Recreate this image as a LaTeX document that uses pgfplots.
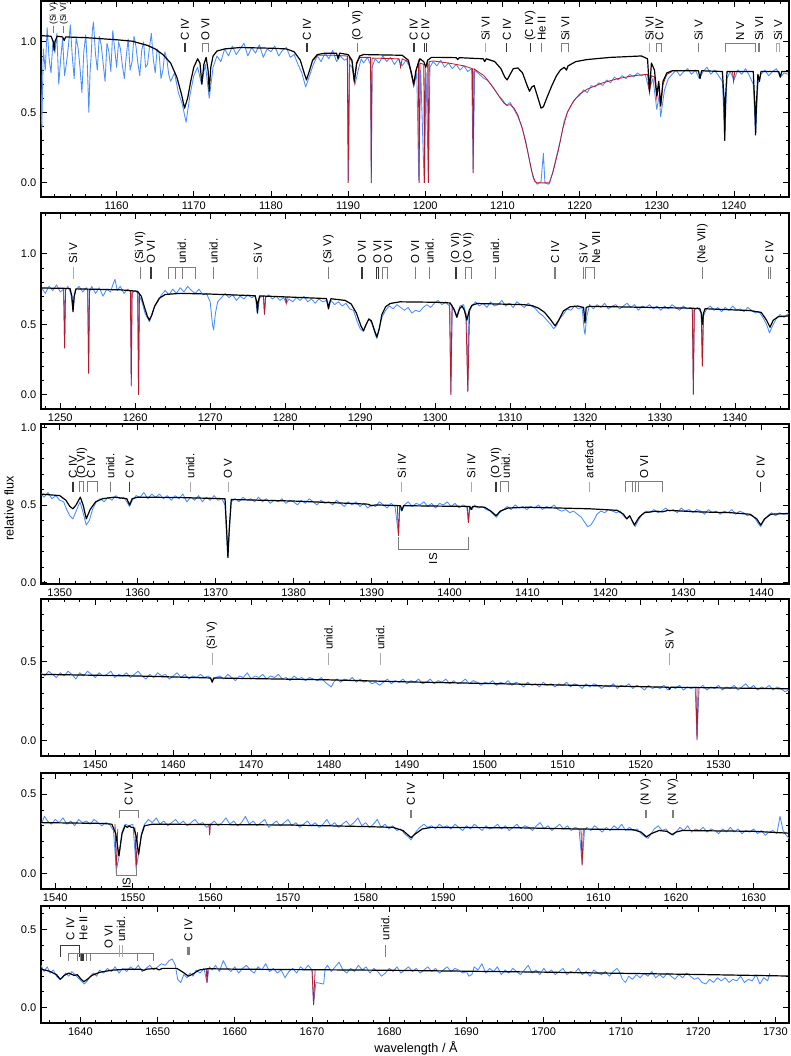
\documentclass[border=0pt]{standalone}
\usepackage{fontspec}
\setmainfont{Liberation Sans}
\usepackage{pgfplots}
\pgfplotsset{compat=1.18}
\definecolor{obs}{RGB}{74,142,255}
\definecolor{mred}{RGB}{185,25,45}
\definecolor{idg}{RGB}{125,125,125}
\definecolor{idl}{RGB}{170,170,170}
\definecolor{idd}{RGB}{55,55,55}
\newcommand\ticfont{\fontsize{8.3}{9}\selectfont}
\newcommand\idfont{\fontsize{8.6}{9}\selectfont}
\newcommand\tk[2][idg]{\draw[#1,line width=0.6pt] (axis cs:#2,\LTa) -- (axis cs:#2,\LTb);}
\newcommand\brk[3][idg]{\draw[#1,line width=0.6pt] (axis cs:#2,\LTb) -- (axis cs:#2,\LTa) -- (axis cs:#3,\LTa) -- (axis cs:#3,\LTb);}
\newcommand\lbl[2]{\node[rotate=90,anchor=west,inner sep=0pt,font=\idfont] at (axis cs:#1,\LTt) {#2};}
\pgfplotsset{
 sp/.style={scale only axis, width=561pt, anchor=south west, clip mode=individual,
  xtick distance=10, minor x tick num=4, minor y tick num=4, ytick={0,0.5,1},
  major tick length=4.3pt, minor tick length=2.4pt,
  axis line style={line width=0.9pt}, tick style={black,line width=0.6pt},
  tick label style={font=\ticfont},
  /pgf/number format/assume math mode=true,
  yticklabel style={/pgf/number format/.cd,fixed,fixed zerofill,precision=1,assume math mode=true},
  xticklabel style={/pgf/number format/.cd,1000 sep={},assume math mode=true}},
 obsline/.style={obs,line width=0.65pt,mark=none,line join=round},
 redline/.style={mred,line width=0.6pt,mark=none,unbounded coords=jump},
 modline/.style={black,line width=0.9pt,mark=none,line join=round}}
\begin{document}
\begin{tikzpicture}
\path[use as bounding box] (0,0) rectangle (592.5pt,792pt);
% ---------------- panel 1
\def\LTa{0.99}\def\LTb{0.93}\def\LTt{1.005}
\begin{axis}[sp, at={(30.75pt,644.25pt)}, height=147pt, xmin=1150.2, xmax=1247.13, ymin=-0.1, ymax=1.29]
\addplot[obsline] coordinates {(1150.0,0.62)(1150.15,0.85)(1150.3,0.38)(1150.5,0.95)(1150.75,0.80)(1151.0,1.10)(1151.25,0.88)(1151.5,0.78)(1151.75,1.01)(1152.0,0.92)(1152.25,1.06)(1152.5,0.70)(1152.75,0.88)(1153.0,1.02)(1153.25,0.76)(1153.5,0.85)(1153.75,0.97)(1154.0,1.12)(1154.25,0.90)(1154.5,0.74)(1154.75,1.03)(1155.0,0.96)(1155.25,0.82)(1155.5,0.64)(1155.75,0.93)(1156.0,1.05)(1156.2,0.84)(1156.4,0.50)(1156.55,0.78)(1156.7,0.90)(1156.85,1.08)(1157.0,1.14)(1157.25,0.92)(1157.5,0.80)(1157.75,1.04)(1158.0,0.98)(1158.25,0.85)(1158.5,0.72)(1158.75,0.99)(1159.0,0.93)(1159.25,0.79)(1159.5,1.08)(1159.75,0.95)(1160.0,0.82)(1160.25,1.00)(1160.5,0.95)(1160.75,0.83)(1161.0,0.74)(1161.25,0.90)(1161.5,1.02)(1161.75,0.80)(1162.0,0.86)(1162.25,1.04)(1162.5,0.97)(1162.75,0.85)(1163.0,0.76)(1163.25,0.94)(1163.5,1.00)(1163.75,0.82)(1164.0,0.84)(1164.25,0.96)(1164.5,1.06)(1164.75,0.88)(1165.0,0.78)(1165.25,0.95)(1165.5,0.92)(1165.75,0.74)(1166.0,0.80)(1166.25,0.93)(1166.5,0.88)(1166.75,0.77)(1167.0,0.72)(1167.5,0.78)(1168.0,0.64)(1168.5,0.56)(1169.0,0.43)(1169.5,0.62)(1170.0,0.76)(1170.5,0.82)(1171.0,0.70)(1171.5,0.84)(1172.0,0.60)(1172.5,0.82)(1173.0,0.90)(1173.5,0.86)(1174.0,0.95)(1174.5,0.90)(1175.0,0.97)(1175.5,0.91)(1176.0,0.95)(1176.5,0.99)(1177.0,0.90)(1177.5,0.96)(1178.0,0.92)(1178.5,0.98)(1179.0,0.89)(1179.5,0.95)(1180.0,0.93)(1180.5,0.97)(1181.0,0.90)(1181.5,0.94)(1182.0,0.96)(1182.5,0.89)(1183.0,0.91)(1183.5,0.84)(1184.0,0.78)(1184.5,0.68)(1185.0,0.76)(1185.5,0.84)(1186.0,0.90)(1186.5,0.86)(1187.0,0.92)(1187.5,0.88)(1188.0,0.94)(1188.5,0.86)(1189.0,0.90)(1189.5,0.87)(1189.9,0.88)(1190.05,0.02)(1190.2,0.84)(1190.5,0.82)(1190.9,0.70)(1191.3,0.80)(1191.7,0.88)(1192.0,0.85)(1192.5,0.89)(1192.9,0.84)(1193.0,0.0)(1193.1,0.82)(1193.5,0.88)(1194.0,0.85)(1194.5,0.90)(1195.0,0.86)(1195.5,0.89)(1196.0,0.84)(1196.5,0.88)(1197.0,0.83)(1197.5,0.87)(1198.0,0.82)(1198.5,0.68)(1198.9,0.78)(1199.15,0.02)(1199.4,0.80)(1199.85,0.0)(1200.1,0.78)(1200.4,0.01)(1200.6,0.82)(1201.0,0.86)(1201.5,0.83)(1202.0,0.87)(1202.5,0.82)(1203.0,0.85)(1203.5,0.81)(1204.0,0.84)(1204.5,0.80)(1205.0,0.83)(1205.5,0.79)(1206.0,0.81)(1206.2,0.10)(1206.4,0.80)(1206.8,0.78)(1207.2,0.76)(1207.6,0.74)(1208.0,0.73)(1208.5,0.70)(1209.0,0.66)(1209.5,0.62)(1210.0,0.59)(1210.5,0.55)(1211.0,0.57)(1211.5,0.52)(1212.0,0.47)(1212.5,0.40)(1213.0,0.30)(1213.5,0.16)(1214.0,0.03)(1214.5,-0.01)(1215.0,0.01)(1215.3,0.21)(1215.5,0.0)(1216.0,-0.01)(1216.5,0.07)(1217.0,0.19)(1217.5,0.30)(1218.0,0.44)(1218.5,0.51)(1219.0,0.56)(1219.5,0.60)(1220.0,0.62)(1220.5,0.66)(1221.0,0.64)(1221.5,0.69)(1222.0,0.68)(1222.5,0.71)(1223.0,0.69)(1223.5,0.73)(1224.0,0.71)(1224.5,0.75)(1225.0,0.73)(1225.5,0.76)(1226.0,0.74)(1226.5,0.77)(1227.0,0.75)(1227.5,0.78)(1228.0,0.76)(1228.5,0.77)(1229.0,0.66)(1229.5,0.74)(1230.0,0.52)(1230.3,0.62)(1230.5,0.47)(1231.0,0.66)(1231.5,0.74)(1232.0,0.77)(1232.5,0.80)(1233.0,0.76)(1233.5,0.79)(1234.0,0.81)(1234.5,0.77)(1235.0,0.80)(1235.5,0.74)(1236.0,0.79)(1236.5,0.82)(1237.0,0.77)(1237.5,0.80)(1238.0,0.76)(1238.5,0.72)(1238.8,0.32)(1239.1,0.74)(1239.5,0.79)(1240.0,0.73)(1240.5,0.80)(1241.0,0.77)(1241.5,0.81)(1242.0,0.76)(1242.5,0.70)(1242.8,0.35)(1243.1,0.70)(1243.5,0.77)(1244.0,0.80)(1244.5,0.76)(1245.0,0.79)(1245.5,0.81)(1246.0,0.75)(1246.5,0.78)(1247.0,0.77)};
\addplot[redline] coordinates {(1185.5,0.87)(1186,0.905)(1188,0.905)(1189.9,0.90)(1190.0,0.0)(1190.15,0.89)(1190.5,0.86)(1190.8,0.71)(1191.1,0.84)(1191.5,0.89)(1192.9,0.89)(1193.0,0.0)(1193.1,0.885)(1196.6,0.88)(1196.8,0.82)(1197.0,0.88)(1197.8,0.86)(1198.2,0.77)(1198.5,0.69)(1198.8,0.79)(1199.1,0.86)(1199.2,0.0)(1199.3,0.85)(1199.8,0.84)(1199.9,0.0)(1200.0,0.82)(1200.3,0.85)(1200.4,0.0)(1200.5,0.86)(1201,0.865)(1203,0.85)(1205,0.83)(1206.1,0.81)(1206.2,0.07)(1206.3,0.81)(1206.8,0.79)(1207.6,0.76)(1208.2,0.72)(1209,0.66)(1209.6,0.61)(1210.2,0.565)(1210.6,0.55)(1211.0,0.555)(1211.5,0.53)(1212,0.48)(1212.6,0.38)(1213.2,0.24)(1213.8,0.08)(1214.2,0.01)(1214.5,0.0)(1216.1,0.0)(1216.6,0.09)(1217.2,0.22)(1217.8,0.38)(1218.4,0.50)(1219.2,0.58)(1220,0.63)(1221,0.665)(1223,0.71)(1225,0.74)(1227,0.76)(1228.8,0.77)(1229.05,0.64)(1229.3,0.76)(1229.7,0.75)(1230.0,0.60)(1230.25,0.70)(1230.5,0.54)(1230.8,0.70)(1231.3,0.77)(1232,0.79)(1235,nan)(1239.8,0.79)(1239.95,0.72)(1240.1,0.79)};
\addplot[modline] coordinates {(1150,1.045)(1151.5,1.04)(1151.8,1.00)(1151.9,0.94)(1152.0,1.00)(1152.3,1.04)(1153.0,1.035)(1153.2,1.01)(1153.4,1.035)(1156,1.03)(1160,1.015)(1162,1.005)(1163,0.99)(1164,0.975)(1165,0.95)(1166,0.91)(1167,0.85)(1167.8,0.75)(1168.4,0.63)(1168.8,0.53)(1169.2,0.60)(1169.6,0.72)(1170.0,0.82)(1170.5,0.88)(1170.8,0.85)(1171.05,0.70)(1171.3,0.84)(1171.6,0.89)(1171.85,0.80)(1172.0,0.65)(1172.2,0.82)(1172.5,0.90)(1173,0.935)(1174,0.95)(1176,0.96)(1180,0.955)(1182,0.95)(1183,0.93)(1183.8,0.87)(1184.3,0.78)(1184.6,0.73)(1184.9,0.78)(1185.4,0.87)(1186,0.91)(1187,0.92)(1188.5,0.92)(1188.7,0.88)(1188.9,0.92)(1190.0,0.91)(1190.5,0.87)(1190.8,0.72)(1191.1,0.85)(1191.5,0.90)(1192,0.91)(1197,0.905)(1197.8,0.87)(1198.2,0.78)(1198.5,0.70)(1198.8,0.80)(1199.3,0.88)(1199.8,0.86)(1200.05,0.82)(1200.3,0.87)(1200.8,0.89)(1202,0.89)(1204,0.888)(1204.2,0.875)(1204.4,0.888)(1207.5,0.88)(1207.7,0.86)(1207.9,0.88)(1209,0.86)(1209.8,0.81)(1210.3,0.75)(1210.6,0.73)(1210.9,0.76)(1211.4,0.81)(1212,0.815)(1212.6,0.78)(1213.2,0.69)(1213.5,0.65)(1213.8,0.68)(1214.1,0.69)(1214.5,0.62)(1215.0,0.53)(1215.3,0.54)(1215.8,0.61)(1216.4,0.69)(1217,0.76)(1217.5,0.80)(1218.0,0.82)(1218.3,0.80)(1218.5,0.83)(1219.5,0.86)(1221,0.875)(1224,0.89)(1228,0.90)(1228.8,0.88)(1229.05,0.65)(1229.3,0.85)(1229.7,0.80)(1230.0,0.62)(1230.25,0.72)(1230.5,0.55)(1230.8,0.72)(1231.3,0.78)(1232,0.795)(1235.4,0.795)(1235.6,0.74)(1235.8,0.795)(1238.5,0.79)(1238.7,0.60)(1238.8,0.30)(1238.9,0.60)(1239.1,0.79)(1242.5,0.79)(1242.7,0.55)(1242.8,0.34)(1242.9,0.55)(1243.1,0.77)(1243.3,0.72)(1243.5,0.79)(1245.8,0.79)(1246.0,0.75)(1246.2,0.79)(1247.13,0.79)};
\draw[idg,line width=0.6pt] (axis cs:1151.85,1.11) -- (axis cs:1151.85,1.065);
\draw[idg,line width=0.6pt] (axis cs:1153.15,1.11) -- (axis cs:1153.15,1.065);
\node[rotate=90,anchor=west,inner sep=0pt,font=\fontsize{6.5}{7}\selectfont] at (axis cs:1151.85,1.12) {(Si V)};
\node[rotate=90,anchor=west,inner sep=0pt,font=\fontsize{6.5}{7}\selectfont] at (axis cs:1153.15,1.12) {(Si VI)};
\tk[idd]{1168.75}\tk[idd]{1168.95}\lbl{1168.85}{C IV}
\brk{1171.06}{1171.93}\lbl{1171.5}{O VI}
\tk[idd]{1184.56}\tk[idd]{1184.76}\lbl{1184.66}{C IV}
\tk{1191.2}\lbl{1191.2}{(O VI)}
\tk[idd]{1198.4}\tk[idd]{1198.6}\lbl{1198.5}{C IV}
\tk[idd]{1199.92}\tk[idd]{1200.12}\lbl{1200.02}{C IV}
\tk[idl]{1207.8}\lbl{1207.8}{Si VI}
\tk[idd]{1210.57}\lbl{1210.57}{C IV}
\tk[idd]{1213.6}\lbl{1213.6}{(C IV)}
\tk{1215.1}\lbl{1215.1}{He II}
\brk{1217.7}{1218.6}\lbl{1218.15}{Si VI}
\tk[idl]{1229.05}\lbl{1229.05}{Si VI}
\brk{1230.0}{1230.65}\lbl{1230.35}{C IV}
\tk{1235.4}\lbl{1235.4}{Si V}
\brk{1238.86}{1242.75}\lbl{1240.8}{N V}
\tk{1243.18}\tk{1243.34}\lbl{1243.26}{Si VI}
\brk[idl]{1245.55}{1245.85}\lbl{1245.7}{Si V}
\end{axis}
% ---------------- panel 2
\def\LTa{0.905}\def\LTb{0.82}\def\LTt{0.93}
\begin{axis}[sp, at={(30.75pt,485.25pt)}, height=147pt, xmin=1247.43, xmax=1347.2, ymin=-0.1, ymax=1.29]
\addplot[obsline] coordinates {(1247.5,0.76)(1248,0.72)(1248.5,0.77)(1249,0.74)(1249.5,0.78)(1250,0.73)(1250.45,0.75)(1250.58,0.34)(1250.7,0.74)(1251,0.77)(1251.4,0.72)(1251.7,0.60)(1252,0.74)(1252.5,0.77)(1253,0.73)(1253.5,0.76)(1253.68,0.74)(1253.78,0.16)(1253.9,0.73)(1254.2,0.77)(1254.7,0.72)(1255.2,0.76)(1255.7,0.70)(1256.2,0.75)(1256.7,0.73)(1257.0,0.78)(1257.3,0.82)(1257.6,0.74)(1258,0.77)(1258.5,0.72)(1259,0.75)(1259.38,0.73)(1259.47,0.07)(1259.56,0.72)(1260,0.74)(1260.35,0.72)(1260.44,0.01)(1260.55,0.70)(1260.9,0.66)(1261.3,0.58)(1261.6,0.55)(1261.9,0.52)(1262.2,0.57)(1262.6,0.63)(1263,0.66)(1263.5,0.71)(1264,0.74)(1264.5,0.71)(1265,0.75)(1265.5,0.72)(1266,0.76)(1266.5,0.73)(1267,0.77)(1267.5,0.74)(1268,0.72)(1268.5,0.75)(1269,0.71)(1269.5,0.72)(1270,0.66)(1270.3,0.50)(1270.45,0.46)(1270.7,0.58)(1271,0.66)(1271.5,0.69)(1272,0.72)(1272.5,0.69)(1273,0.71)(1273.5,0.67)(1274,0.70)(1274.5,0.68)(1275,0.71)(1275.5,0.69)(1276,0.70)(1276.3,0.58)(1276.6,0.69)(1277.1,0.70)(1277.24,0.57)(1277.4,0.69)(1277.8,0.71)(1278.3,0.68)(1278.8,0.70)(1279.3,0.67)(1279.8,0.69)(1280.14,0.65)(1280.5,0.68)(1281,0.66)(1281.5,0.69)(1282,0.67)(1282.5,0.70)(1283,0.66)(1283.5,0.68)(1284,0.65)(1284.5,0.68)(1285,0.66)(1285.5,0.67)(1285.78,0.61)(1286.1,0.67)(1286.6,0.64)(1287.1,0.66)(1287.6,0.63)(1288.1,0.65)(1288.6,0.61)(1289.1,0.60)(1289.6,0.52)(1290.0,0.47)(1290.44,0.45)(1290.8,0.50)(1291.2,0.54)(1291.6,0.50)(1292.0,0.43)(1292.23,0.40)(1292.5,0.46)(1292.9,0.55)(1293.4,0.60)(1293.9,0.63)(1294.4,0.61)(1294.9,0.64)(1295.4,0.62)(1295.9,0.60)(1296.4,0.62)(1296.9,0.58)(1297.4,0.60)(1297.9,0.59)(1298.4,0.62)(1298.9,0.64)(1299.4,0.62)(1299.9,0.65)(1300.4,0.67)(1300.9,0.64)(1301.4,0.66)(1301.9,0.63)(1302.1,0.02)(1302.3,0.62)(1302.6,0.60)(1302.9,0.56)(1303.3,0.63)(1303.8,0.64)(1304.2,0.55)(1304.36,0.03)(1304.5,0.58)(1304.9,0.63)(1305.4,0.66)(1305.9,0.63)(1306.4,0.65)(1306.9,0.62)(1307.4,0.66)(1307.9,0.63)(1308.4,0.64)(1308.9,0.67)(1309.4,0.63)(1309.9,0.65)(1310.4,0.62)(1310.9,0.66)(1311.4,0.64)(1311.9,0.62)(1312.4,0.65)(1312.9,0.63)(1313.4,0.61)(1313.9,0.58)(1314.4,0.56)(1314.9,0.53)(1315.4,0.50)(1315.8,0.47)(1316.2,0.49)(1316.6,0.54)(1317.1,0.57)(1317.6,0.61)(1318.1,0.60)(1318.6,0.63)(1319.1,0.61)(1319.6,0.62)(1319.9,0.45)(1320.0,0.43)(1320.2,0.55)(1320.6,0.64)(1321.1,0.61)(1321.6,0.64)(1322.1,0.62)(1322.6,0.65)(1323.1,0.61)(1323.6,0.63)(1324.1,0.64)(1324.6,0.61)(1325.1,0.63)(1325.6,0.65)(1326.1,0.62)(1326.6,0.64)(1327.1,0.60)(1327.6,0.63)(1328.1,0.62)(1328.6,0.64)(1329.1,0.61)(1329.6,0.63)(1330.1,0.60)(1330.6,0.63)(1331.1,0.61)(1331.6,0.64)(1332.1,0.62)(1332.6,0.60)(1333.1,0.63)(1333.6,0.61)(1334.1,0.62)(1334.35,0.60)(1334.44,0.01)(1334.55,0.60)(1335.0,0.62)(1335.5,0.58)(1335.64,0.21)(1335.8,0.56)(1336.2,0.61)(1336.7,0.63)(1337.2,0.60)(1337.7,0.62)(1338.2,0.59)(1338.7,0.62)(1339.2,0.60)(1339.7,0.63)(1340.2,0.60)(1340.7,0.61)(1341.2,0.59)(1341.7,0.62)(1342.2,0.60)(1342.7,0.58)(1343.2,0.59)(1343.7,0.55)(1344.2,0.50)(1344.6,0.44)(1345.0,0.49)(1345.5,0.54)(1346.0,0.57)(1346.5,0.55)(1347.2,0.58)};
\addplot[redline] coordinates {(1250.45,0.755)(1250.58,0.33)(1250.71,0.755)(1252,nan)(1253.65,0.75)(1253.78,0.15)(1253.91,0.75)(1256,nan)(1259.35,0.742)(1259.47,0.06)(1259.59,0.74)(1259.9,nan)(1260.32,0.736)(1260.44,0.0)(1260.56,0.72)(1270,nan)(1277.1,0.70)(1277.24,0.57)(1277.38,0.70)(1278,nan)(1280.0,0.695)(1280.14,0.65)(1280.28,0.695)(1290,nan)(1301.95,0.652)(1302.1,0.0)(1302.25,0.64)(1303,nan)(1304.1,0.58)(1304.36,0.02)(1304.6,0.59)(1320,nan)(1334.3,0.615)(1334.44,0.0)(1334.58,0.615)(1335,nan)(1335.5,0.58)(1335.64,0.20)(1335.78,0.58)};
\addplot[modline] coordinates {(1247.43,0.758)(1251.3,0.755)(1251.55,0.70)(1251.7,0.59)(1251.85,0.70)(1252.1,0.752)(1258,0.745)(1260.3,0.735)(1260.8,0.70)(1261.3,0.61)(1261.6,0.56)(1261.87,0.53)(1262.2,0.565)(1262.6,0.63)(1263.2,0.685)(1264,0.712)(1266,0.72)(1270,0.715)(1276.0,0.703)(1276.2,0.66)(1276.3,0.58)(1276.4,0.66)(1276.6,0.702)(1280,0.695)(1285.5,0.683)(1285.65,0.65)(1285.78,0.61)(1285.9,0.65)(1286.1,0.682)(1288.0,0.67)(1288.8,0.645)(1289.5,0.58)(1290.1,0.49)(1290.44,0.455)(1290.8,0.50)(1291.15,0.538)(1291.5,0.525)(1291.9,0.46)(1292.23,0.41)(1292.55,0.47)(1292.9,0.57)(1293.4,0.625)(1294,0.648)(1295.3,0.66)(1300,0.657)(1302.0,0.652)(1302.5,0.61)(1302.9,0.55)(1303.25,0.61)(1303.6,0.63)(1303.9,0.60)(1304.23,0.53)(1304.55,0.60)(1304.9,0.635)(1305.6,0.648)(1311.8,0.640)(1313,0.632)(1313.8,0.615)(1314.6,0.585)(1315.3,0.54)(1316.0,0.49)(1316.5,0.53)(1317.1,0.595)(1318,0.625)(1319.0,0.63)(1319.8,0.62)(1319.99,0.51)(1320.15,0.62)(1320.6,0.628)(1334.0,0.615)(1335.3,0.612)(1335.5,0.58)(1335.64,0.50)(1335.8,0.58)(1336.0,0.611)(1342,0.598)(1343.5,0.585)(1344.2,0.53)(1344.67,0.48)(1345.1,0.53)(1345.8,0.555)(1347.2,0.56)};
\tk[idl]{1251.7}\lbl{1251.7}{Si V}
\tk{1260.67}\lbl{1260.67}{(Si VI)}
\tk[idd]{1262.0}\tk[idd]{1262.2}\lbl{1262.1}{O VI}
\brk{1264.44}{1268.0}\tk{1265.34}\tk{1266.23}\lbl{1266.2}{unid.}
\tk{1270.44}\lbl{1270.44}{unid.}
\tk[idl]{1276.36}\lbl{1276.36}{Si V}
\tk{1285.78}\lbl{1285.78}{(Si V)}
\tk[idd]{1290.15}\tk[idd]{1290.32}\lbl{1290.23}{O VI}
\brk[idd]{1292.1}{1292.45}\lbl{1292.3}{O VI}
\brk{1293.0}{1293.6}\lbl{1293.75}{O VI}
\tk{1297.34}\lbl{1297.34}{O VI}
\tk{1299.25}\lbl{1299.25}{unid.}
\tk[idd]{1302.72}\tk[idd]{1302.9}\lbl{1302.8}{(O VI)}
\brk{1304.0}{1304.9}\lbl{1304.44}{(O VI)}
\tk{1308.0}\lbl{1308.0}{unid.}
\tk{1315.9}\tk{1316.1}\lbl{1316.0}{C IV}
\tk{1319.8}\lbl{1319.78}{Si V}
\brk{1320.1}{1321.3}\lbl{1321.5}{Ne VII}
\tk{1335.64}\lbl{1335.64}{(Ne VII)}
\tk{1344.5}\tk{1344.7}\lbl{1344.6}{C IV}
\end{axis}
% ---------------- panel 3
\def\LTa{0.65}\def\LTb{0.585}\def\LTt{0.67}
\begin{axis}[sp, at={(30.75pt,354pt)}, height=120pt, xmin=1347.6, xmax=1443.53, ymin=-0.01, ymax=1.022]
\addplot[obsline] coordinates {(1347.6,0.57)(1348,0.55)(1348.5,0.58)(1349,0.54)(1349.5,0.56)(1350,0.53)(1350.5,0.52)(1350.9,0.47)(1351.3,0.43)(1351.7,0.41)(1352.1,0.46)(1352.6,0.52)(1353.0,0.45)(1353.4,0.37)(1353.8,0.40)(1354.2,0.47)(1354.7,0.52)(1355.2,0.54)(1355.7,0.52)(1356.2,0.55)(1356.7,0.53)(1357.2,0.56)(1357.7,0.54)(1358.2,0.55)(1358.6,0.52)(1358.96,0.49)(1359.3,0.53)(1359.8,0.56)(1360.3,0.55)(1360.8,0.58)(1361.3,0.54)(1361.8,0.57)(1362.3,0.55)(1362.8,0.57)(1363.3,0.54)(1363.8,0.56)(1364.3,0.53)(1364.8,0.56)(1365.3,0.54)(1365.8,0.57)(1366.3,0.52)(1366.8,0.55)(1367.3,0.53)(1367.8,0.56)(1368.3,0.52)(1368.8,0.55)(1369.3,0.53)(1369.8,0.56)(1370.3,0.53)(1370.8,0.54)(1371.2,0.50)(1371.4,0.30)(1371.57,0.17)(1371.75,0.33)(1372,0.52)(1372.5,0.54)(1373,0.52)(1373.5,0.55)(1374,0.53)(1374.5,0.54)(1375,0.52)(1375.5,0.55)(1376,0.52)(1376.5,0.54)(1377,0.51)(1377.5,0.53)(1378,0.52)(1378.5,0.54)(1379,0.51)(1379.5,0.53)(1380,0.52)(1380.5,0.50)(1381,0.53)(1381.5,0.51)(1382,0.54)(1382.5,0.52)(1383,0.50)(1383.5,0.53)(1384,0.51)(1384.5,0.52)(1385,0.50)(1385.5,0.53)(1386,0.51)(1386.5,0.49)(1387,0.52)(1387.5,0.50)(1388,0.52)(1388.5,0.49)(1389,0.51)(1389.5,0.48)(1390,0.50)(1390.5,0.49)(1391,0.52)(1391.5,0.50)(1392,0.48)(1392.5,0.51)(1393,0.49)(1393.45,0.31)(1393.6,0.48)(1393.88,0.46)(1394.2,0.50)(1394.7,0.52)(1395.2,0.49)(1395.7,0.51)(1396.2,0.50)(1396.7,0.52)(1397.2,0.49)(1397.7,0.51)(1398.2,0.48)(1398.7,0.51)(1399.2,0.50)(1399.7,0.52)(1400.2,0.49)(1400.7,0.51)(1401.2,0.48)(1401.7,0.50)(1402.2,0.49)(1402.42,0.39)(1402.6,0.48)(1402.9,0.47)(1403.2,0.50)(1403.7,0.48)(1404.2,0.49)(1404.7,0.47)(1405.2,0.46)(1405.6,0.44)(1406.0,0.42)(1406.4,0.45)(1406.9,0.47)(1407.4,0.49)(1407.9,0.47)(1408.4,0.50)(1408.9,0.48)(1409.4,0.49)(1409.9,0.47)(1410.4,0.49)(1410.9,0.48)(1411.4,0.50)(1411.9,0.47)(1412.4,0.49)(1412.9,0.48)(1413.4,0.50)(1413.9,0.47)(1414.4,0.46)(1414.9,0.47)(1415.4,0.45)(1415.9,0.46)(1416.4,0.44)(1416.9,0.42)(1417.3,0.39)(1417.7,0.36)(1418.1,0.37)(1418.5,0.40)(1418.9,0.44)(1419.4,0.46)(1419.9,0.45)(1420.4,0.47)(1420.9,0.46)(1421.4,0.45)(1421.9,0.46)(1422.3,0.43)(1422.7,0.41)(1423.1,0.43)(1423.5,0.39)(1423.8,0.36)(1424.2,0.40)(1424.7,0.44)(1425.2,0.46)(1425.7,0.45)(1426.2,0.47)(1426.7,0.45)(1427.2,0.46)(1427.7,0.48)(1428.2,0.46)(1428.7,0.47)(1429.2,0.45)(1429.7,0.48)(1430.2,0.46)(1430.7,0.47)(1431.2,0.45)(1431.7,0.47)(1432.2,0.46)(1432.7,0.44)(1433.2,0.47)(1433.7,0.45)(1434.2,0.46)(1434.7,0.44)(1435.2,0.46)(1435.7,0.45)(1436.2,0.47)(1436.7,0.44)(1437.2,0.46)(1437.7,0.45)(1438.2,0.43)(1438.7,0.44)(1439.2,0.41)(1439.6,0.38)(1439.9,0.36)(1440.3,0.40)(1440.8,0.43)(1441.3,0.45)(1441.8,0.43)(1442.3,0.45)(1442.8,0.44)(1443.5,0.44)};
\addplot[redline] coordinates {(1393.3,0.495)(1393.45,0.30)(1393.6,0.495)(1398,nan)(1402.28,0.49)(1402.42,0.385)(1402.56,0.49)};
\addplot[modline] coordinates {(1347.6,0.57)(1350,0.56)(1350.8,0.53)(1351.3,0.49)(1351.7,0.475)(1352.1,0.50)(1352.64,0.55)(1353.0,0.50)(1353.41,0.41)(1353.9,0.47)(1354.6,0.52)(1355.5,0.54)(1357,0.55)(1358.6,0.54)(1358.96,0.50)(1359.3,0.54)(1360,0.55)(1365,0.548)(1371.2,0.54)(1371.4,0.35)(1371.57,0.16)(1371.75,0.35)(1372,0.535)(1380,0.525)(1389.5,0.505)(1390,0.495)(1390.5,0.50)(1393.7,0.495)(1393.88,0.465)(1394.1,0.495)(1402.6,0.49)(1402.77,0.47)(1402.95,0.49)(1404.5,0.485)(1405.3,0.46)(1405.97,0.43)(1406.5,0.46)(1407.5,0.48)(1410,0.485)(1418,0.475)(1421.5,0.465)(1422.3,0.44)(1422.73,0.41)(1423.1,0.43)(1423.7,0.37)(1424.3,0.42)(1425,0.45)(1426.5,0.46)(1427.3,0.455)(1428,0.465)(1432,0.455)(1436,0.45)(1438.5,0.44)(1439.4,0.41)(1439.9,0.37)(1440.4,0.41)(1441.2,0.44)(1443.53,0.445)};
\tk[idd]{1351.6}\tk[idd]{1351.8}\lbl{1351.7}{C IV}
\brk{1352.5}{1353.05}\lbl{1352.86}{(O VI)}
\brk{1353.57}{1354.78}\lbl{1354.05}{C IV}
\tk{1356.48}\lbl{1356.48}{unid.}
\tk[idd]{1358.96}\lbl{1358.96}{C IV}
\tk[idl]{1366.74}\lbl{1366.74}{unid.}
\tk[idl]{1371.57}\lbl{1371.57}{O V}
\tk[idl]{1393.88}\lbl{1393.88}{Si IV}
\tk[idl]{1402.77}\lbl{1402.77}{Si IV}
\tk[idd]{1405.9}\tk[idd]{1406.05}\lbl{1405.97}{(O VI)}
\brk{1406.5}{1407.55}\lbl{1407.2}{unid.}
\tk[idl]{1417.93}\lbl{1417.93}{artefact}
\brk{1422.51}{1427.34}\tk{1423.5}\tk{1423.8}\tk{1424.2}\lbl{1424.95}{O VI}
\tk[idd]{1439.9}\lbl{1439.9}{C IV}
\draw[idg,line width=0.6pt] (axis cs:1393.45,0.29) -- (axis cs:1393.45,0.213) -- (axis cs:1402.42,0.213) -- (axis cs:1402.42,0.29);
\node[rotate=90,anchor=east,inner sep=0pt,font=\idfont] at (axis cs:1397.9,0.19) {IS};
\end{axis}
% ---------------- panel 4
\def\LTa{0.553}\def\LTb{0.479}\def\LTt{0.574}
\begin{axis}[sp, at={(30.75pt,225pt)}, height=117.75pt, xmin=1443.03, xmax=1539.05, ymin=-0.1, ymax=0.9]
\addplot[obsline] coordinates {(1443.0,0.43)(1443.5,0.41)(1444.0,0.44)(1444.5,0.42)(1445.0,0.40)(1445.5,0.43)(1446.0,0.41)(1446.5,0.44)(1447.0,0.42)(1447.5,0.39)(1448.0,0.43)(1448.5,0.41)(1449.0,0.44)(1449.5,0.42)(1450.0,0.40)(1450.5,0.43)(1451.0,0.41)(1451.5,0.42)(1452.0,0.44)(1452.5,0.40)(1453.0,0.42)(1453.5,0.41)(1454.0,0.43)(1454.5,0.40)(1455.0,0.42)(1455.5,0.44)(1456.0,0.41)(1456.5,0.39)(1457.0,0.42)(1457.5,0.40)(1458.0,0.43)(1458.5,0.41)(1459.0,0.42)(1459.5,0.39)(1460.0,0.41)(1460.5,0.43)(1461.0,0.40)(1461.5,0.42)(1462.0,0.39)(1462.5,0.41)(1463.0,0.40)(1463.5,0.42)(1464.0,0.40)(1464.5,0.41)(1465.0,0.38)(1465.5,0.40)(1466.0,0.41)(1466.5,0.39)(1467.0,0.42)(1467.5,0.40)(1468.0,0.38)(1468.5,0.41)(1469.0,0.40)(1469.5,0.43)(1470.0,0.39)(1470.5,0.41)(1471.0,0.40)(1471.5,0.42)(1472.0,0.39)(1472.5,0.41)(1473.0,0.40)(1473.5,0.42)(1474.0,0.39)(1474.5,0.40)(1475.0,0.38)(1475.5,0.41)(1476.0,0.39)(1476.5,0.40)(1477.0,0.38)(1477.5,0.40)(1478.0,0.39)(1478.5,0.38)(1479.0,0.40)(1479.5,0.37)(1480.0,0.35)(1480.3,0.34)(1480.6,0.37)(1481.0,0.39)(1481.5,0.37)(1482.0,0.39)(1482.5,0.38)(1483.0,0.40)(1483.5,0.37)(1484.0,0.39)(1484.5,0.37)(1485.0,0.38)(1485.5,0.36)(1486.0,0.37)(1486.5,0.35)(1487.0,0.37)(1487.5,0.39)(1488.0,0.36)(1488.5,0.38)(1489.0,0.37)(1489.5,0.39)(1490.0,0.36)(1490.5,0.38)(1491.0,0.37)(1491.5,0.39)(1492.0,0.36)(1492.5,0.37)(1493.0,0.39)(1493.5,0.36)(1494.0,0.38)(1494.5,0.37)(1495.0,0.39)(1495.5,0.36)(1496.0,0.38)(1496.5,0.36)(1497.0,0.37)(1497.5,0.39)(1498.0,0.36)(1498.5,0.38)(1499.0,0.37)(1499.5,0.35)(1500.0,0.37)(1500.5,0.36)(1501.0,0.38)(1501.5,0.35)(1502.0,0.37)(1502.5,0.36)(1503.0,0.38)(1503.5,0.35)(1504.0,0.37)(1504.5,0.36)(1505.0,0.34)(1505.5,0.37)(1506.0,0.35)(1506.5,0.36)(1507.0,0.34)(1507.5,0.37)(1508.0,0.35)(1508.5,0.36)(1509.0,0.34)(1509.5,0.36)(1510.0,0.35)(1510.5,0.37)(1511.0,0.34)(1511.5,0.36)(1512.0,0.35)(1512.5,0.33)(1513.0,0.36)(1513.5,0.34)(1514.0,0.36)(1514.5,0.35)(1515.0,0.33)(1515.5,0.35)(1516.0,0.34)(1516.5,0.36)(1517.0,0.33)(1517.5,0.35)(1518.0,0.34)(1518.5,0.36)(1519.0,0.33)(1519.5,0.35)(1520.0,0.34)(1520.5,0.32)(1521.0,0.35)(1521.5,0.33)(1522.0,0.34)(1522.5,0.33)(1523.0,0.35)(1523.5,0.32)(1524.0,0.34)(1524.5,0.33)(1525.0,0.35)(1525.5,0.32)(1526.0,0.34)(1526.5,0.33)(1527.0,0.34)(1527.24,0.01)(1527.5,0.33)(1528.0,0.35)(1528.5,0.32)(1529.0,0.34)(1529.5,0.33)(1530.0,0.35)(1530.5,0.32)(1531.0,0.34)(1531.5,0.33)(1532.0,0.35)(1532.5,0.32)(1533.0,0.34)(1533.5,0.36)(1534.0,0.33)(1534.5,0.35)(1535.0,0.32)(1535.5,0.34)(1536.0,0.33)(1536.5,0.35)(1537.0,0.32)(1537.5,0.34)(1538.0,0.33)(1538.5,0.31)(1539.05,0.32)};
\addplot[redline] coordinates {(1527.1,0.336)(1527.24,0.0)(1527.38,0.336)};
\addplot[modline] coordinates {(1443.03,0.42)(1455,0.41)(1464.8,0.397)(1465.0,0.37)(1465.2,0.397)(1480,0.385)(1490,0.372)(1500,0.362)(1510,0.352)(1523.6,0.338)(1523.72,0.325)(1523.85,0.338)(1530,0.334)(1539.05,0.328)};
\tk[idl]{1464.98}\lbl{1464.98}{(Si V)}
\tk[idl]{1479.95}\lbl{1479.95}{unid.}
\tk[idl]{1486.59}\lbl{1486.59}{unid.}
\tk[idl]{1523.72}\lbl{1523.72}{Si V}
\end{axis}
% ---------------- panel 5
\def\LTa{0.40}\def\LTb{0.35}\def\LTt{0.426}
\begin{axis}[sp, at={(30.75pt,125.25pt)}, height=87pt, xmin=1538.16, xmax=1634.56, ymin=-0.1, ymax=0.634]
\addplot[obsline] coordinates {(1538.2,0.31)(1538.6,0.36)(1539.0,0.33)(1539.5,0.31)(1540.0,0.34)(1540.5,0.32)(1541.0,0.35)(1541.5,0.31)(1542.0,0.33)(1542.5,0.30)(1543.0,0.34)(1543.5,0.32)(1544.0,0.33)(1544.5,0.31)(1545.0,0.34)(1545.5,0.32)(1546.0,0.30)(1546.5,0.32)(1547.0,0.31)(1547.5,0.27)(1547.87,0.02)(1548.2,0.10)(1548.6,0.26)(1549.0,0.31)(1549.5,0.30)(1550.0,0.31)(1550.44,0.03)(1550.74,0.12)(1551.1,0.25)(1551.5,0.31)(1552.0,0.34)(1552.5,0.32)(1553.0,0.35)(1553.5,0.31)(1554.0,0.33)(1554.5,0.30)(1555.0,0.32)(1555.5,0.34)(1556.0,0.31)(1556.5,0.33)(1557.0,0.30)(1557.5,0.32)(1558.0,0.34)(1558.5,0.31)(1559.0,0.32)(1559.5,0.29)(1560.0,0.31)(1560.5,0.33)(1561.0,0.30)(1561.5,0.32)(1562.0,0.35)(1562.5,0.31)(1563.0,0.33)(1563.5,0.30)(1564.0,0.32)(1564.5,0.36)(1565.0,0.31)(1565.5,0.33)(1566.0,0.30)(1566.5,0.32)(1567.0,0.34)(1567.5,0.29)(1568.0,0.31)(1568.5,0.33)(1569.0,0.30)(1569.5,0.32)(1570.0,0.34)(1570.5,0.30)(1571.0,0.32)(1571.5,0.29)(1572.0,0.31)(1572.5,0.33)(1573.0,0.30)(1573.5,0.32)(1574.0,0.29)(1574.5,0.31)(1575.0,0.34)(1575.5,0.30)(1576.0,0.32)(1576.5,0.29)(1577.0,0.31)(1577.5,0.33)(1578.0,0.30)(1578.5,0.32)(1579.0,0.35)(1579.5,0.30)(1580.0,0.32)(1580.5,0.29)(1581.0,0.31)(1581.5,0.34)(1582.0,0.29)(1582.5,0.31)(1583.0,0.28)(1583.5,0.30)(1584.0,0.27)(1584.5,0.28)(1585.0,0.25)(1585.5,0.23)(1585.85,0.21)(1586.2,0.24)(1586.6,0.27)(1587.0,0.29)(1587.5,0.31)(1588.0,0.29)(1588.5,0.30)(1589.0,0.28)(1589.5,0.31)(1590.0,0.29)(1590.5,0.30)(1591.0,0.28)(1591.5,0.31)(1592.0,0.29)(1592.5,0.27)(1593.0,0.30)(1593.5,0.28)(1594.0,0.31)(1594.5,0.29)(1595.0,0.27)(1595.5,0.30)(1596.0,0.28)(1596.5,0.29)(1597.0,0.31)(1597.5,0.28)(1598.0,0.30)(1598.5,0.27)(1599.0,0.29)(1599.5,0.31)(1600.0,0.28)(1600.5,0.30)(1601.0,0.29)(1601.5,0.27)(1602.0,0.30)(1602.5,0.32)(1603.0,0.28)(1603.5,0.30)(1604.0,0.27)(1604.5,0.29)(1605.0,0.31)(1605.5,0.28)(1606.0,0.30)(1606.5,0.27)(1607.0,0.29)(1607.5,0.28)(1607.9,0.06)(1608.2,0.27)(1608.5,0.29)(1609.0,0.27)(1609.5,0.30)(1610.0,0.28)(1610.5,0.26)(1611.0,0.29)(1611.5,0.27)(1612.0,0.30)(1612.5,0.28)(1613.0,0.31)(1613.5,0.27)(1614.0,0.29)(1614.5,0.27)(1615.0,0.28)(1615.5,0.25)(1616.0,0.23)(1616.4,0.22)(1616.8,0.25)(1617.2,0.28)(1617.7,0.30)(1618.2,0.27)(1618.7,0.28)(1619.2,0.25)(1619.6,0.24)(1620.0,0.26)(1620.5,0.29)(1621.0,0.27)(1621.5,0.30)(1622.0,0.26)(1622.5,0.28)(1623.0,0.27)(1623.5,0.29)(1624.0,0.26)(1624.5,0.28)(1625.0,0.27)(1625.5,0.25)(1626.0,0.28)(1626.5,0.26)(1627.0,0.29)(1627.5,0.26)(1628.0,0.28)(1628.5,0.25)(1629.0,0.27)(1629.5,0.26)(1630.0,0.28)(1630.5,0.25)(1631.0,0.27)(1631.5,0.24)(1632.0,0.26)(1632.5,0.27)(1633.0,0.25)(1633.4,0.36)(1633.8,0.27)(1634.2,0.24)(1634.56,0.22)};
\addplot[redline] coordinates {(1547.7,0.31)(1547.87,0.0)(1548.05,0.28)(1549,nan)(1550.27,0.29)(1550.44,0.02)(1550.6,0.26)(1555,nan)(1559.8,0.31)(1559.9,0.24)(1560.0,0.31)(1580,nan)(1607.75,0.28)(1607.9,0.05)(1608.05,0.28)};
\addplot[modline] coordinates {(1538.16,0.32)(1546,0.315)(1547.3,0.31)(1547.8,0.25)(1548.2,0.11)(1548.6,0.25)(1549.0,0.30)(1549.3,0.29)(1549.55,0.30)(1549.8,0.29)(1550.1,0.29)(1550.4,0.24)(1550.74,0.12)(1551.1,0.24)(1551.5,0.30)(1552.5,0.31)(1570,0.305)(1580,0.295)(1583.5,0.29)(1584.8,0.27)(1585.5,0.24)(1585.85,0.225)(1586.3,0.245)(1587.3,0.28)(1588.5,0.29)(1600,0.287)(1607,0.28)(1614.5,0.275)(1615.5,0.26)(1616.2,0.23)(1616.8,0.25)(1617.8,0.27)(1618.8,0.265)(1619.5,0.245)(1620.0,0.26)(1620.8,0.27)(1630,0.265)(1634.56,0.253)};
\brk{1548.2}{1550.74}\lbl{1549.47}{C IV}
\draw[idg,line width=0.6pt] (axis cs:1547.87,0.05) -- (axis cs:1547.87,-0.012) -- (axis cs:1550.44,-0.012) -- (axis cs:1550.44,0.05);
\node[rotate=90,anchor=east,inner sep=0pt,font=\idfont] at (axis cs:1549.2,-0.025) {IS};
\tk{1585.75}\tk{1585.95}\lbl{1585.85}{C IV}
\tk{1616.0}\tk{1616.2}\lbl{1616.1}{(N V)}
\tk{1619.5}\tk{1619.7}\lbl{1619.6}{(N V)}
\end{axis}
% ---------------- panel 6
\def\LTa{0.40}\def\LTb{0.324}\def\LTt{0.43}
\begin{axis}[sp, at={(30.75pt,24.75pt)}, height=87.75pt, xmin=1634.9, xmax=1731.77, ymin=-0.1, ymax=0.65]
\addplot[obsline] coordinates {(1634.9,0.27)(1635.3,0.23)(1635.7,0.26)(1636.1,0.22)(1636.5,0.24)(1636.9,0.20)(1637.3,0.18)(1637.7,0.19)(1638.1,0.22)(1638.5,0.20)(1638.9,0.23)(1639.3,0.21)(1639.7,0.19)(1640.1,0.17)(1640.5,0.15)(1640.9,0.17)(1641.3,0.20)(1641.7,0.22)(1642.1,0.20)(1642.5,0.24)(1643.0,0.22)(1643.5,0.25)(1644.0,0.23)(1644.5,0.26)(1645.0,0.22)(1645.5,0.25)(1646.0,0.23)(1646.5,0.26)(1647.0,0.24)(1647.5,0.27)(1648.0,0.23)(1648.5,0.25)(1649.0,0.27)(1649.5,0.24)(1650.0,0.26)(1650.5,0.28)(1651.0,0.27)(1651.5,0.30)(1651.9,0.31)(1652.3,0.27)(1652.6,0.18)(1653.0,0.16)(1653.4,0.21)(1653.8,0.19)(1654.2,0.22)(1654.6,0.20)(1655.0,0.24)(1655.5,0.22)(1656.0,0.25)(1656.4,0.16)(1656.7,0.26)(1657.1,0.24)(1657.5,0.27)(1658.0,0.23)(1658.5,0.30)(1659.0,0.25)(1659.5,0.23)(1660.0,0.26)(1660.5,0.22)(1661.0,0.25)(1661.5,0.27)(1662.0,0.24)(1662.5,0.22)(1663.0,0.26)(1663.5,0.24)(1664.0,0.28)(1664.5,0.23)(1665.0,0.25)(1665.5,0.22)(1666.0,0.24)(1666.5,0.19)(1667.0,0.23)(1667.5,0.25)(1668.0,0.22)(1668.5,0.26)(1669.0,0.24)(1669.5,0.27)(1670.0,0.24)(1670.2,0.02)(1670.5,0.16)(1671.5,0.15)(1671.7,0.25)(1672.0,0.27)(1672.5,0.23)(1673.0,0.26)(1673.5,0.29)(1674.0,0.24)(1674.5,0.22)(1675.0,0.25)(1675.5,0.23)(1676.0,0.27)(1676.5,0.24)(1677.0,0.26)(1677.5,0.22)(1678.0,0.25)(1678.5,0.23)(1679.0,0.20)(1679.5,0.22)(1680.0,0.25)(1680.5,0.23)(1681.0,0.26)(1681.5,0.22)(1682.0,0.24)(1682.5,0.26)(1683.0,0.23)(1683.5,0.25)(1684.0,0.22)(1684.5,0.24)(1685.0,0.26)(1685.5,0.23)(1686.0,0.25)(1686.5,0.22)(1687.0,0.24)(1687.5,0.26)(1688.0,0.23)(1688.5,0.25)(1689.0,0.24)(1689.5,0.22)(1690.0,0.23)(1690.3,0.20)(1690.7,0.21)(1691.0,0.26)(1691.5,0.24)(1692.0,0.28)(1692.5,0.22)(1693.0,0.25)(1693.5,0.23)(1694.0,0.26)(1694.5,0.21)(1695.0,0.24)(1695.5,0.22)(1696.0,0.25)(1696.5,0.23)(1697.0,0.21)(1697.5,0.24)(1698.0,0.27)(1698.5,0.22)(1699.0,0.24)(1699.5,0.21)(1700.0,0.25)(1700.5,0.22)(1701.0,0.24)(1701.5,0.21)(1702.0,0.23)(1702.5,0.25)(1703.0,0.21)(1703.5,0.23)(1704.0,0.22)(1704.5,0.25)(1705.0,0.21)(1705.5,0.23)(1706.0,0.20)(1706.5,0.24)(1707.0,0.22)(1707.5,0.21)(1708.0,0.23)(1708.5,0.20)(1709.0,0.23)(1709.5,0.25)(1709.8,0.23)(1710.2,0.18)(1710.6,0.16)(1711.0,0.20)(1711.5,0.18)(1712.0,0.21)(1712.5,0.19)(1713.0,0.22)(1713.5,0.20)(1714.0,0.23)(1714.5,0.19)(1715.0,0.21)(1715.5,0.19)(1716.0,0.22)(1716.5,0.20)(1717.0,0.18)(1717.5,0.21)(1718.0,0.19)(1718.5,0.22)(1719.0,0.20)(1719.5,0.18)(1720.0,0.19)(1720.5,0.16)(1721.0,0.15)(1721.5,0.18)(1722.0,0.16)(1722.5,0.19)(1723.0,0.17)(1723.5,0.19)(1724.0,0.16)(1724.5,0.18)(1725.0,0.17)(1725.5,0.20)(1726.0,0.16)(1726.5,0.18)(1727.0,0.17)(1727.5,0.21)(1728.0,0.15)(1728.5,0.19)(1729.0,0.17)(1729.3,0.22)};
\addplot[redline] coordinates {(1656.3,0.248)(1656.4,0.155)(1656.5,0.248)(1660,nan)(1670.0,0.243)(1670.2,0.015)(1670.4,0.243)};
\addplot[modline] coordinates {(1634.9,0.245)(1636,0.232)(1636.9,0.21)(1637.4,0.18)(1637.9,0.205)(1638.5,0.22)(1639.2,0.205)(1639.6,0.21)(1640.1,0.18)(1640.45,0.165)(1640.9,0.18)(1641.5,0.205)(1642.5,0.225)(1644,0.238)(1646,0.245)(1647.8,0.245)(1648.2,0.237)(1648.6,0.245)(1649.8,0.25)(1650.2,0.24)(1650.6,0.25)(1652.5,0.25)(1653.3,0.225)(1654.0,0.20)(1654.6,0.215)(1655.4,0.24)(1656.5,0.248)(1660,0.245)(1680,0.238)(1700,0.226)(1720,0.211)(1731.77,0.201)};
\brk[idd]{1637.4}{1639.86}\lbl{1638.7}{C IV}
\draw[idd,line width=0.6pt] (axis cs:1640.15,0.35) -- (axis cs:1640.15,0.30) (axis cs:1640.3,0.35) -- (axis cs:1640.3,0.30) (axis cs:1640.45,0.35) -- (axis cs:1640.45,0.30);
\lbl{1640.4}{He II}
\draw[idg,line width=0.6pt] (axis cs:1638.48,0.30) -- (axis cs:1638.48,0.346) -- (axis cs:1649.48,0.346) -- (axis cs:1649.48,0.30) (axis cs:1639.64,0.346) -- (axis cs:1639.64,0.30) (axis cs:1639.99,0.346) -- (axis cs:1639.99,0.30) (axis cs:1640.77,0.346) -- (axis cs:1640.77,0.30) (axis cs:1641.28,0.346) -- (axis cs:1641.28,0.30) (axis cs:1647.33,0.346) -- (axis cs:1647.33,0.30);
\node[rotate=90,anchor=west,inner sep=0pt,font=\idfont] at (axis cs:1643.65,0.378) {O VI};
\tk[idl]{1645.1}\tk[idl]{1645.4}\node[rotate=90,anchor=west,inner sep=0pt,font=\idfont] at (axis cs:1645.26,0.42) {unid.};
\draw[idg,line width=0.6pt] (axis cs:1653.85,0.39) -- (axis cs:1653.85,0.335) (axis cs:1654.0,0.39) -- (axis cs:1654.0,0.335) (axis cs:1654.15,0.39) -- (axis cs:1654.15,0.335);
\node[rotate=90,anchor=west,inner sep=0pt,font=\idfont] at (axis cs:1654.0,0.42) {C IV};
\tk{1679.5}\lbl{1679.5}{unid.}
\end{axis}
\node[rotate=90,font=\fontsize{9.5}{10}\selectfont] at (6.75pt,410.8pt) {relative flux};
\node[font=\fontsize{9.5}{10}\selectfont] at (312pt,6pt) {wavelength / Å};
\end{tikzpicture}
\end{document}
